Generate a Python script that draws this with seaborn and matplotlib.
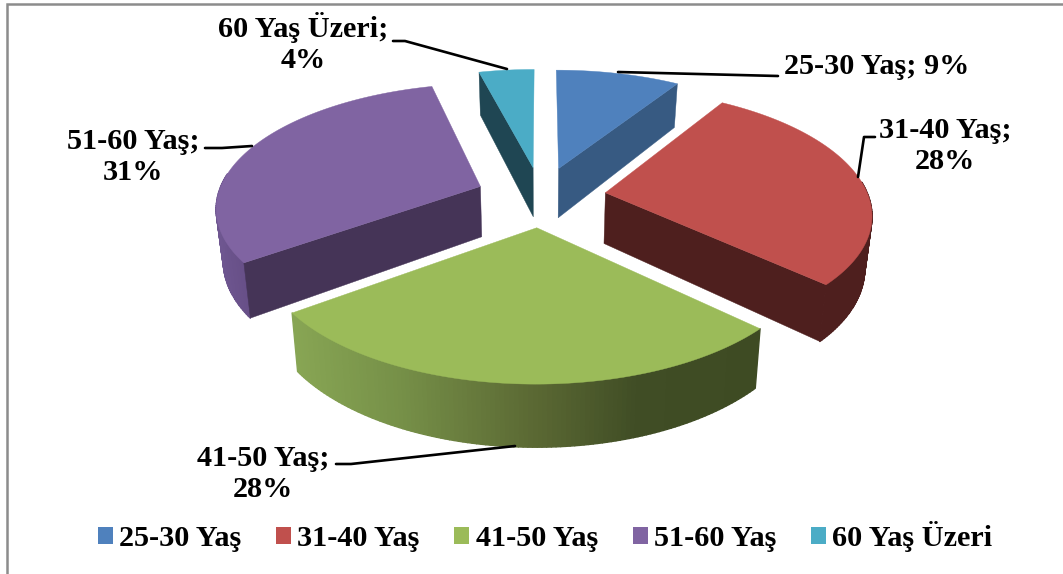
import numpy as np
import seaborn as sns
import matplotlib.pyplot as plt
from matplotlib.collections import PolyCollection
from matplotlib.patches import Patch, Polygon

labels = ['25-30 Yaş', '31-40 Yaş', '41-50 Yaş', '51-60 Yaş', '60 Yaş Üzeri']
values = [9, 28, 28, 31, 4]
top_colors = ['#4f81bd', '#c0504d', '#9bbb59', '#8064a2', '#4bacc6']
side_colors = ['#375a82', '#4e1f1e', '#3f4c24', '#453457', '#1f4653']

# rim shading, left to right in pixels (only green and purple really change)
green_x = [291, 400, 530, 640, 760]
green_rim = [(136, 166, 84), (118, 144, 72), (92, 106, 52), (64, 77, 37), (62, 75, 35)]
purple_x = [215, 250]
purple_rim = [(110, 86, 144), (102, 78, 134)]

# perspective settings of the pie, found by measuring the slice corners
cx, cy = 541, 196.5
rx, ry = 263, 121.5
persp = 0.154
explode = 0.248
depth = 51
taper = 0.978


def project(x, y, low=False):
    s = 1 / (1 + persp * y)
    px = rx * x * s
    py = cy - ry * y * s
    if low:
        return cx + px * taper, py + depth * s
    return cx + px, py


def rim_colors(i, xs):
    if i == 2:
        src_x, src = green_x, green_rim
    elif i == 3:
        src_x, src = purple_x, purple_rim
    else:
        return [side_colors[i]] * len(xs)
    arr = np.array(src) / 255
    return [tuple(np.interp(v, src_x, arr[:, c]) for c in range(3)) for v in xs]


def face_visible(a, p, q):
    # side face shows when the top of the slice lies above its edge on screen
    if abs(p[0] - a[0]) < 10:
        return False
    if p[0] < a[0]:
        a, p = p, a
    dx, dy = p[0] - a[0], p[1] - a[1]
    return dx * (q[1] - a[1]) - dy * (q[0] - a[0]) < 0


sns.set_theme(style='white')
plt.rcParams['font.family'] = ['Liberation Serif', 'DejaVu Serif']
plt.rcParams['font.weight'] = 'bold'

fig = plt.figure(figsize=(10.63, 5.74), dpi=100)
ax = fig.add_axes([0, 0, 1, 1])
ax.set_xlim(0, 1063)
ax.set_ylim(574, 0)
ax.axis('off')

ends = np.cumsum(values) / sum(values) * 2 * np.pi
starts = np.r_[0, ends[:-1]]

# back slices first
for n, i in enumerate([4, 0, 3, 1, 2]):
    mid = (starts[i] + ends[i]) / 2
    ox, oy = explode * np.sin(mid), explode * np.cos(mid)
    t = np.linspace(starts[i], ends[i], 120)
    xs = np.sin(t) + ox
    ys = np.cos(t) + oy

    top = [project(a, b) for a, b in zip(xs, ys)]
    low = [project(a, b, True) for a, b in zip(xs, ys)]
    apex = project(ox, oy)
    apex_low = project(ox, oy, True)

    # outer rim, only the part turned to the viewer
    # thick same colour edges hide the seams between the strips
    quads = [[top[j], top[j + 1], low[j + 1], low[j]] for j in range(len(t) - 1)
             if np.cos(t[j]) < 0.1]
    if quads:
        cols = rim_colors(i, [q[0][0] for q in quads])
        ax.add_collection(PolyCollection(quads, facecolors=cols, edgecolors=cols,
                                         linewidths=1.0, zorder=n + 1.1))

    # cut faces
    inner = project(0.5 * np.sin(mid) + ox, 0.5 * np.cos(mid) + oy)
    for j in [0, -1]:
        if face_visible(apex, top[j], inner):
            ax.add_patch(Polygon([apex, top[j], low[j], apex_low], closed=True,
                                 color=side_colors[i], lw=0.3, zorder=n + 1.2))

    ax.add_patch(Polygon([apex] + top, closed=True, color=top_colors[i], lw=0.3, zorder=n + 1.3))

# chart frame, the crop cuts the right and bottom sides
ax.plot([7, 7, 1063], [574, 4, 4], color='#8c8c8c', lw=1.8, solid_joinstyle='miter', zorder=10)

# leader lines
leaders = [
    ([618, 778], [72, 76]),
    ([858, 864, 875], [177, 137, 137]),
    ([336, 351, 515], [464, 464, 446]),
    ([205, 222, 252], [148, 148, 146]),
    ([393, 405, 507], [41, 41, 69]),
]
for lx, ly in leaders:
    ax.plot(lx, ly, color='black', lw=1.9, zorder=10)

# data labels
label_pos = [(877, 67), (945, 146), (263, 474), (133, 157), (303, 43)]
label_sep = ['; ', ';\n', ';\n', ';\n', ';\n']
for name, val, sep, pos in zip(labels, values, label_sep, label_pos):
    ax.text(pos[0], pos[1], f'{name}{sep}{val}%', ha='center', va='center',
            fontsize=21.8, fontweight='bold', color='black', linespacing=1.17, zorder=11)

handles = [Patch(facecolor=c, edgecolor='none', label=n) for c, n in zip(top_colors, labels)]
ax.legend(handles=handles, ncol=5, loc='center', bbox_to_anchor=(545 / 1063, 1 - 537 / 574),
          frameon=False, fontsize=21.8, handlelength=0.5, handleheight=0.5, labelcolor='black',
          handletextpad=0.2, columnspacing=1.15, borderpad=0, labelspacing=0)

fig.savefig('out.png', dpi=100)
